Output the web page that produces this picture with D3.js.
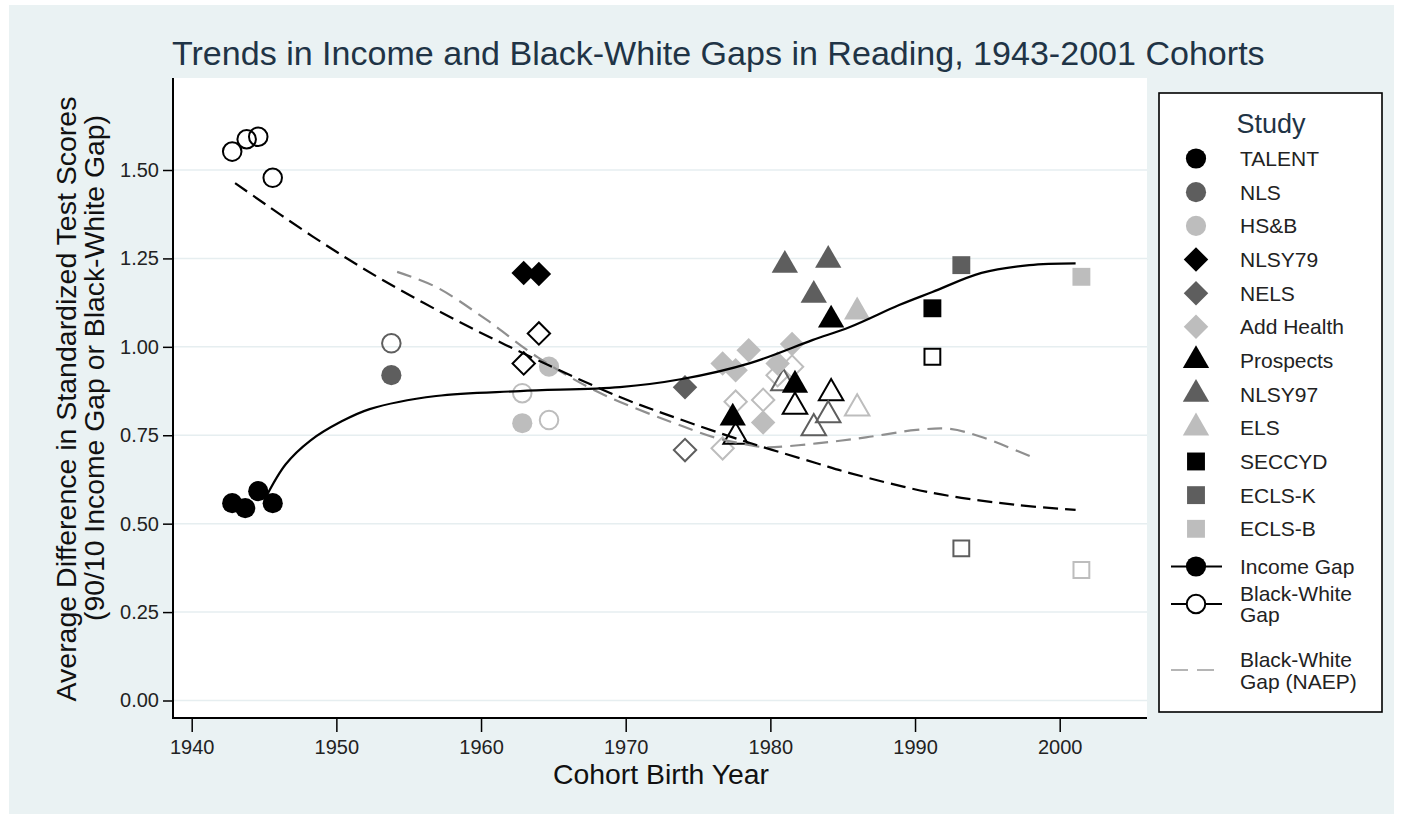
<!DOCTYPE html>
<html><head><meta charset="utf-8">
<script src="https://cdn.jsdelivr.net/npm/d3@7/dist/d3.min.js"></script>
<style>
body{margin:0;background:#fff;}
svg{display:block;font-family:"Liberation Sans",Arial,sans-serif;}
</style>
</head><body>
<svg id="chart" width="1402" height="819"></svg>
<script>
// ---------------- DATA ----------------
const studies = ["TALENT","NLS","HS&B","NLSY79","NELS","Add Health","Prospects","NLSY97","ELS","SECCYD","ECLS-K","ECLS-B"];

// Income (90/10) gap estimates (filled markers)
const incomeStudy = ["TALENT","TALENT","TALENT","TALENT","NLS","HS&B","HS&B","NLSY79","NLSY79","NELS",
  "Add Health","Add Health","Add Health","Add Health","Add Health","Add Health",
  "Prospects","Prospects","Prospects","NLSY97","NLSY97","NLSY97","ELS","SECCYD","ECLS-K","ECLS-B"];
const incomeYear = [1942.8,1943.7,1944.6,1945.6,1953.8,1962.85,1964.7,1962.95,1964.0,1974.1,
  1976.7,1977.6,1978.5,1979.5,1980.5,1981.5,
  1977.4,1981.7,1984.2,1981.0,1983.0,1984.0,1986.0,1991.2,1993.2,2001.5];
const incomeGap = [0.558,0.544,0.592,0.558,0.920,0.784,0.944,1.209,1.206,0.886,
  0.953,0.934,0.990,0.786,0.953,1.008,
  0.799,0.892,1.076,1.231,1.146,1.245,1.099,1.109,1.231,1.198];

// Black-White gap estimates (hollow markers)
const bwStudy = ["TALENT","TALENT","TALENT","TALENT","NLS","HS&B","HS&B","NLSY79","NLSY79","NELS",
  "Add Health","Add Health","Add Health","Add Health","Add Health",
  "Prospects","Prospects","Prospects","NLSY97","NLSY97","NLSY97","ELS","SECCYD","ECLS-K","ECLS-B"];
const bwYear = [1942.8,1943.8,1944.6,1945.6,1953.8,1962.85,1964.7,1962.95,1964.0,1974.1,
  1976.7,1977.6,1979.5,1980.5,1981.5,
  1977.6,1981.7,1984.2,1980.9,1983.0,1984.0,1986.0,1991.2,1993.2,2001.5];
const bwGap = [1.552,1.587,1.594,1.478,1.010,0.869,0.793,0.953,1.038,0.708,
  0.713,0.845,0.850,0.920,0.944,
  0.746,0.831,0.869,0.897,0.770,0.807,0.826,0.972,0.430,0.369];

// Fitted trend lines
const incomeFitYear = [1945.1,1946.5,1948.2,1950.3,1952.3,1956.9,1962.7,1969.6,1973.9,1978.6,1982.9,1985.5,1988.9,1991.2,1994.6,1997.9,2001.1];
const incomeFitGap  = [0.573,0.668,0.735,0.788,0.824,0.861,0.875,0.886,0.909,0.954,1.019,1.056,1.118,1.155,1.209,1.231,1.236];

const bwFitYear = [1943.0,1948.4,1953.2,1959.2,1963.9,1969.6,1973.9,1978.6,1983.2,1985.5,1991.2,1997.0,2001.1];
const bwFitGap  = [1.463,1.311,1.189,1.056,0.963,0.858,0.793,0.728,0.671,0.643,0.587,0.553,0.539];

const naepFitYear = [1954.2,1956.9,1960.4,1963.9,1968.2,1973.9,1976.3,1978.6,1979.7,1983.2,1986.6,1990.1,1992.4,1994.6,1998.1];
const naepFitGap  = [1.212,1.169,1.076,0.971,0.870,0.776,0.742,0.722,0.716,0.727,0.744,0.765,0.768,0.745,0.688];

const xTicks = [1940,1950,1960,1970,1980,1990,2000];
const yTicks = [0,0.25,0.5,0.75,1.0,1.25,1.5];

const titleText = "Trends in Income and Black-White Gaps in Reading, 1943-2001 Cohorts";
const xTitle = "Cohort Birth Year";
const yTitle1 = "Average Difference in Standardized Test Scores";
const yTitle2 = "(90/10 Income Gap or Black-White Gap)";

// ---------------- STYLE ----------------
const BLACK = "#000000", DARK = "#5e5e5e", LIGHT = "#bdbdbd";
const studyShape = {"TALENT":"circle","NLS":"circle","HS&B":"circle","NLSY79":"diamond","NELS":"diamond","Add Health":"diamond",
  "Prospects":"triangle","NLSY97":"triangle","ELS":"triangle","SECCYD":"square","ECLS-K":"square","ECLS-B":"square"};
const studyColor = {"TALENT":BLACK,"NLS":DARK,"HS&B":LIGHT,"NLSY79":BLACK,"NELS":DARK,"Add Health":LIGHT,
  "Prospects":BLACK,"NLSY97":DARK,"ELS":LIGHT,"SECCYD":BLACK,"ECLS-K":DARK,"ECLS-B":LIGHT};

const svg = d3.select("#chart");
const plot = {left:173, right:1147, top:78, bottom:718};

// background
svg.append("rect").attr("x",0).attr("y",0).attr("width",1402).attr("height",819).attr("fill","#ffffff");
svg.append("rect").attr("x",9).attr("y",5).attr("width",1385).attr("height",809).attr("fill","#eaf2f3");
svg.append("rect").attr("x",plot.left).attr("y",plot.top).attr("width",plot.right-plot.left).attr("height",plot.bottom-plot.top).attr("fill","#ffffff");

const x = d3.scaleLinear().domain([1940,2000]).range([191.7,1059.7]);
const y = d3.scaleLinear().domain([0,1.5]).range([700.5,170]);

// gridlines
svg.append("g").selectAll("line").data(yTicks).join("line")
  .attr("x1",plot.left).attr("x2",plot.right)
  .attr("y1",d=>y(d)).attr("y2",d=>y(d))
  .attr("stroke","#e6eef0").attr("stroke-width",1.5);

// axes
const yAxis = svg.append("g").attr("transform",`translate(${plot.left},0)`)
  .call(d3.axisLeft(y).tickValues(yTicks).tickFormat(d3.format(".2f")).tickSize(10).tickPadding(4));
yAxis.select(".domain").remove();
yAxis.selectAll(".tick line").attr("stroke","#000").attr("stroke-width",1.5);
yAxis.selectAll(".tick text").attr("font-size",20).attr("fill","#222").attr("font-family","Liberation Sans, Arial, sans-serif");

const xAxis = svg.append("g").attr("transform",`translate(0,${plot.bottom})`)
  .call(d3.axisBottom(x).tickValues(xTicks).tickFormat(d3.format("d")).tickSize(14).tickPadding(8));
xAxis.select(".domain").remove();
xAxis.selectAll(".tick line").attr("stroke","#000").attr("stroke-width",1.5);
xAxis.selectAll(".tick text").attr("font-size",20).attr("fill","#222").attr("font-family","Liberation Sans, Arial, sans-serif");

svg.append("line").attr("x1",plot.left).attr("x2",plot.left).attr("y1",plot.top).attr("y2",plot.bottom+1).attr("stroke","#000").attr("stroke-width",2);
svg.append("line").attr("x1",plot.left-1).attr("x2",plot.right).attr("y1",plot.bottom).attr("y2",plot.bottom).attr("stroke","#000").attr("stroke-width",2);

// symbols
function symPath(shape, filled){
  if(shape==="circle") return d3.symbol().type(d3.symbolCircle).size(filled?320:270)();
  if(shape==="diamond") return d3.symbol().type(d3.symbolSquare).size(filled?300:250)();
  if(shape==="triangle") return d3.symbol().type(d3.symbolTriangle).size(filled?300:260)();
  return d3.symbol().type(d3.symbolSquare).size(filled?320:250)();
}
function rot(shape){ return shape==="diamond" ? " rotate(45)" : ""; }

const incomeData = incomeYear.map((yr,i)=>({study:incomeStudy[i], year:yr, v:incomeGap[i]}));
const bwData = bwYear.map((yr,i)=>({study:bwStudy[i], year:yr, v:bwGap[i]}));

svg.append("g").selectAll("path").data(bwData).join("path")
  .attr("d",d=>symPath(studyShape[d.study],false))
  .attr("transform",d=>`translate(${x(d.year)},${y(d.v)})`+rot(studyShape[d.study]))
  .attr("fill","none").attr("stroke",d=>studyColor[d.study]).attr("stroke-width",2);

svg.append("g").selectAll("path").data(incomeData).join("path")
  .attr("d",d=>symPath(studyShape[d.study],true))
  .attr("transform",d=>`translate(${x(d.year)},${y(d.v)})`+rot(studyShape[d.study]))
  .attr("fill",d=>studyColor[d.study]).attr("stroke","none");

// fitted lines
const lineGen = d3.line().x(d=>x(d[0])).y(d=>y(d[1])).curve(d3.curveCatmullRom.alpha(0.5));
svg.append("path").attr("d",lineGen(naepFitYear.map((v,i)=>[v,naepFitGap[i]])))
  .attr("fill","none").attr("stroke","#8f8f8f").attr("stroke-width",2.2).attr("stroke-dasharray","15,8");
svg.append("path").attr("d",lineGen(bwFitYear.map((v,i)=>[v,bwFitGap[i]])))
  .attr("fill","none").attr("stroke","#000").attr("stroke-width",2.2).attr("stroke-dasharray","15,7");
svg.append("path").attr("d",lineGen(incomeFitYear.map((v,i)=>[v,incomeFitGap[i]])))
  .attr("fill","none").attr("stroke","#000").attr("stroke-width",2.2);

// text helpers
function fit(sel, target){
  const w = sel.node().getComputedTextLength();
  const fs = parseFloat(sel.attr("font-size"));
  sel.attr("font-size", fs*target/w);
}

// title
const t = svg.append("text").attr("x",172).attr("y",65).attr("font-size",32).attr("fill","#1f3446").text(titleText);
fit(t,1093);

// axis titles
const xt = svg.append("text").attr("x",661).attr("y",784).attr("text-anchor","middle").attr("font-size",28).attr("fill","#111").text(xTitle);
fit(xt,216);
const yt1 = svg.append("text").attr("transform","translate(76,399) rotate(-90)").attr("text-anchor","middle").attr("font-size",28).attr("fill","#111").text(yTitle1);
fit(yt1,605);
const yt2 = svg.append("text").attr("transform","translate(104,368) rotate(-90)").attr("text-anchor","middle").attr("font-size",28).attr("fill","#111").text(yTitle2);
fit(yt2,506);

// legend
const lg = svg.append("g");
lg.append("rect").attr("x",1159).attr("y",93).attr("width",223).attr("height",619).attr("fill","#fff").attr("stroke","#000").attr("stroke-width",1.6);
lg.append("text").attr("x",1271).attr("y",124).attr("text-anchor","middle").attr("dominant-baseline","central").attr("font-size",27).attr("fill","#1f3446").text("Study");
const legY = d3.scaleLinear().domain([0,11]).range([158.5,528.8]);
const mx = 1196, tx = 1240;
studies.forEach((s,i)=>{
  const yy = legY(i);
  lg.append("path").attr("d",symPath(studyShape[s],true)).attr("transform",`translate(${mx},${yy})`+rot(studyShape[s])).attr("fill",studyColor[s]);
  lg.append("text").attr("x",tx).attr("y",yy).attr("dominant-baseline","central").attr("font-size",21).attr("fill","#222").text(s);
});
// Income Gap
let yy = 566.5;
lg.append("line").attr("x1",1171).attr("x2",1222).attr("y1",yy).attr("y2",yy).attr("stroke","#000").attr("stroke-width",2);
lg.append("path").attr("d",symPath("circle",true)).attr("transform",`translate(${mx},${yy})`).attr("fill","#000");
lg.append("text").attr("x",tx).attr("y",yy).attr("dominant-baseline","central").attr("font-size",21).attr("fill","#222").text("Income Gap");
// BW gap
yy = 604;
lg.append("line").attr("x1",1171).attr("x2",1222).attr("y1",yy).attr("y2",yy).attr("stroke","#000").attr("stroke-width",2);
lg.append("path").attr("d",symPath("circle",false)).attr("transform",`translate(${mx},${yy})`).attr("fill","#fff").attr("stroke","#000").attr("stroke-width",2);
lg.append("text").attr("x",tx).attr("y",593).attr("dominant-baseline","central").attr("font-size",21).attr("fill","#222").text("Black-White");
lg.append("text").attr("x",tx).attr("y",614).attr("dominant-baseline","central").attr("font-size",21).attr("fill","#222").text("Gap");
// NAEP
yy = 670;
lg.append("line").attr("x1",1171).attr("x2",1217).attr("y1",yy).attr("y2",yy).attr("stroke","#b5b5b5").attr("stroke-width",2).attr("stroke-dasharray","17,9");
lg.append("text").attr("x",tx).attr("y",659).attr("dominant-baseline","central").attr("font-size",21).attr("fill","#222").text("Black-White");
lg.append("text").attr("x",tx).attr("y",681).attr("dominant-baseline","central").attr("font-size",21).attr("fill","#222").text("Gap (NAEP)");
</script>
</body></html>
